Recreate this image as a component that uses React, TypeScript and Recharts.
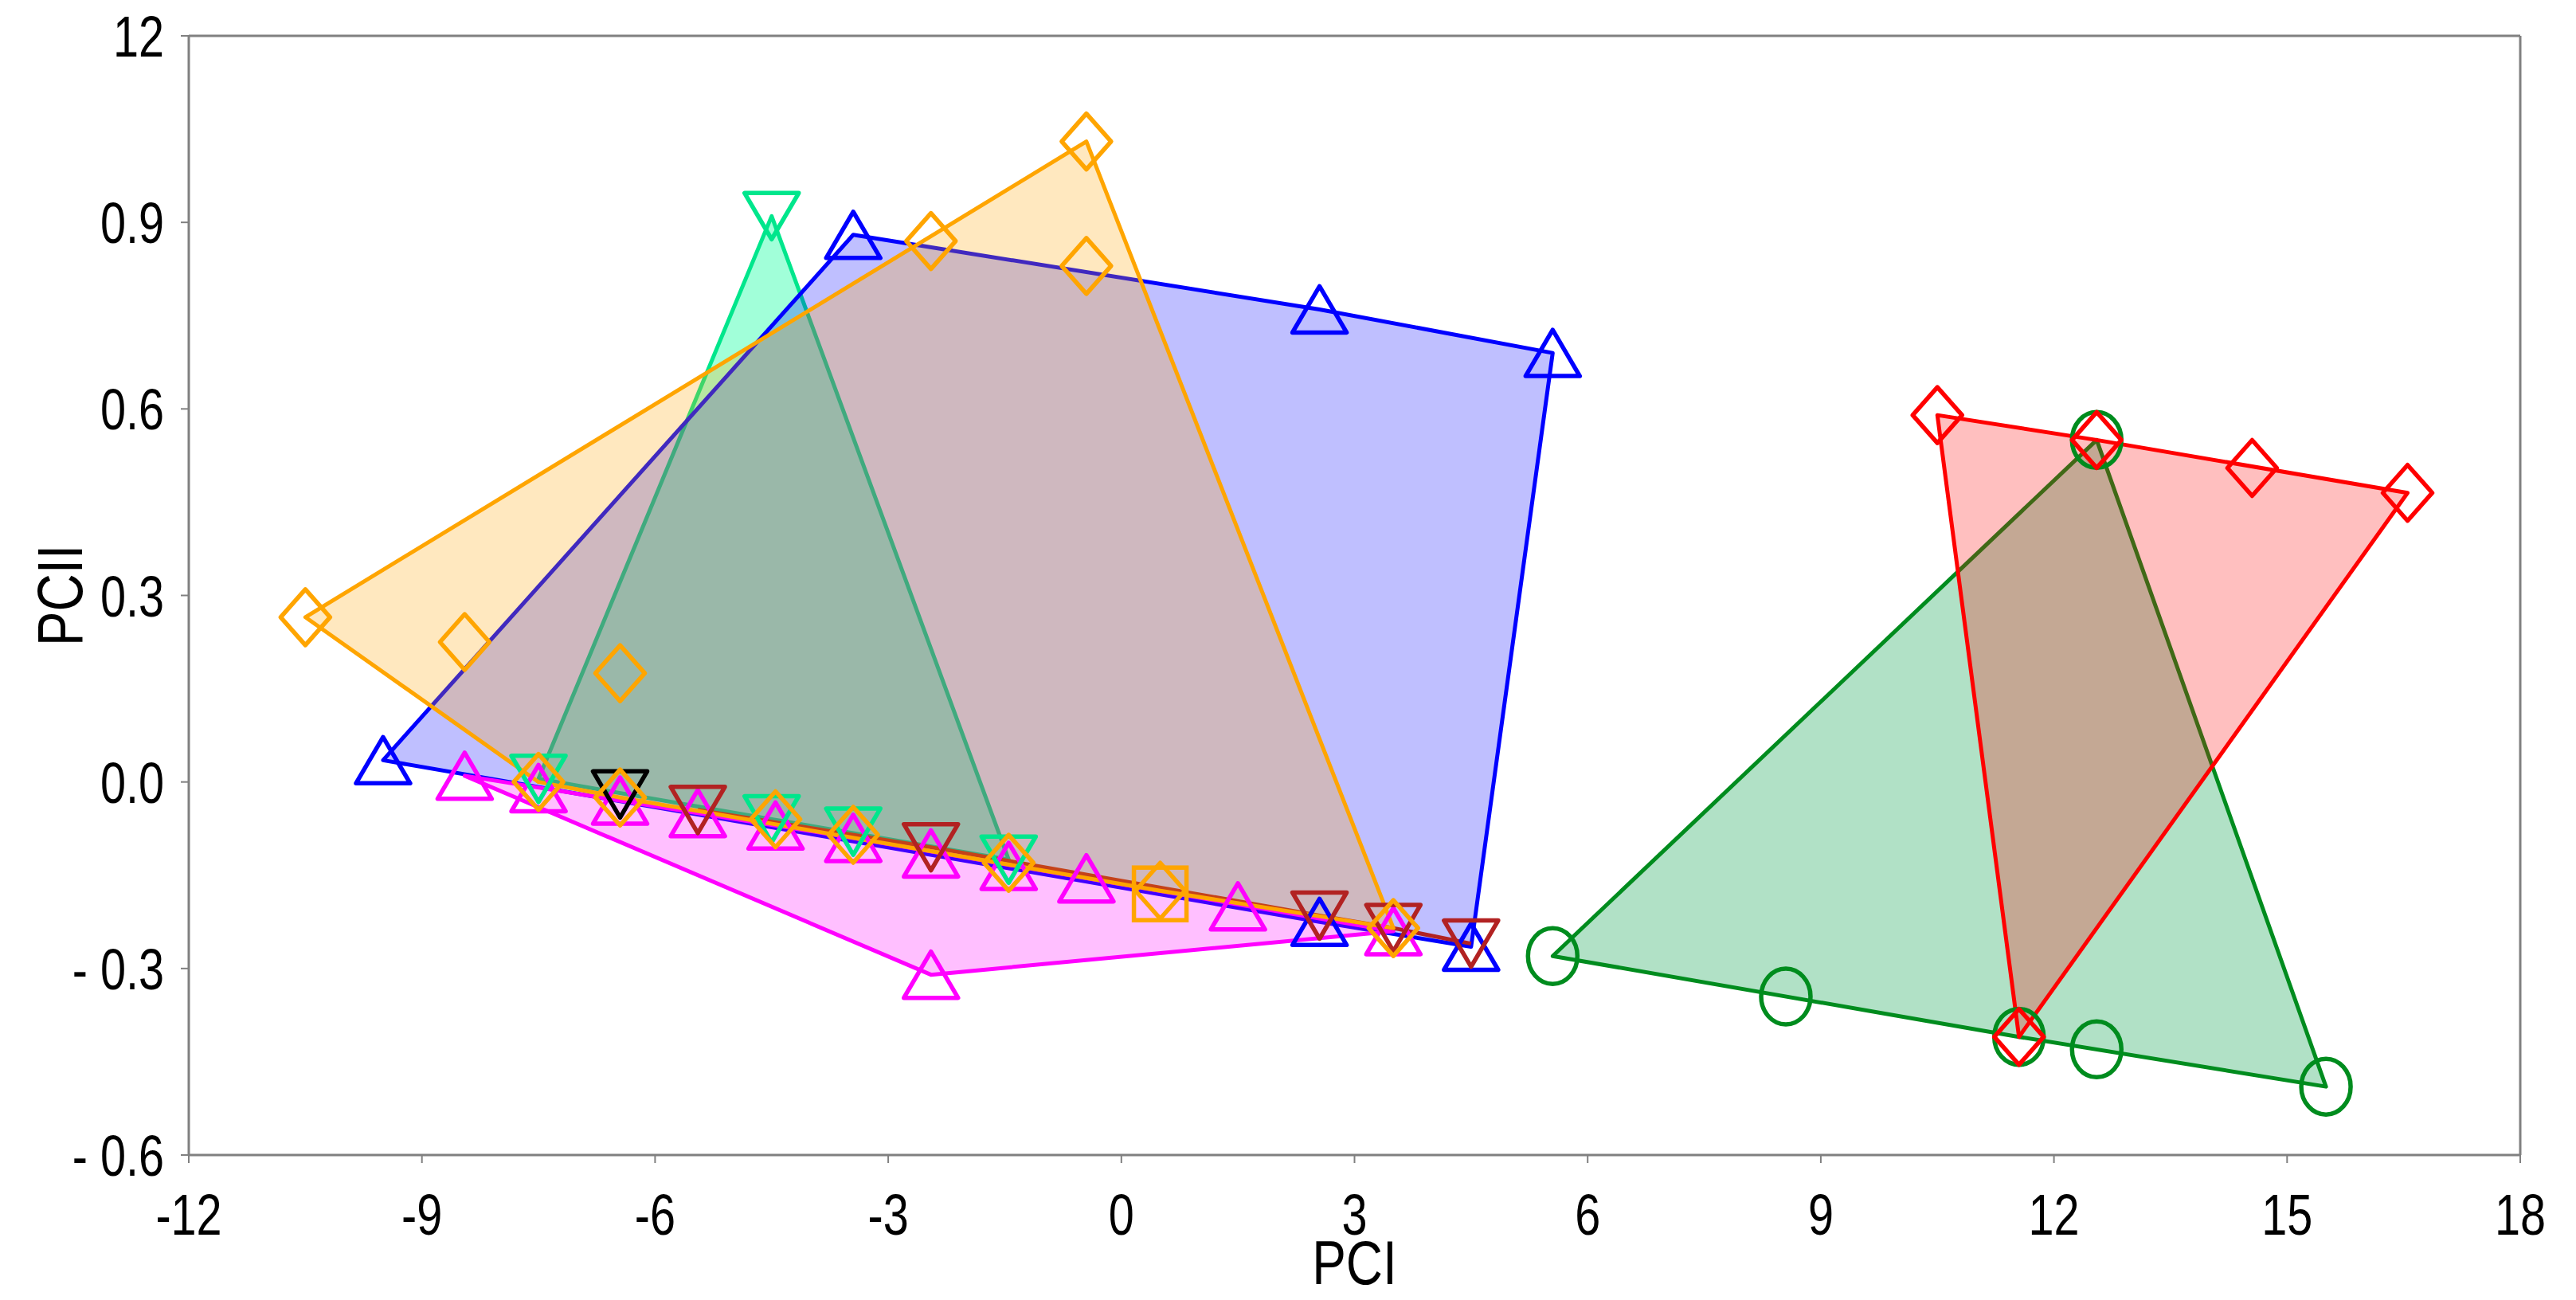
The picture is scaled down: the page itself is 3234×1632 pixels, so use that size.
import React from 'react';
import { ScatterChart, Scatter, XAxis, YAxis, ReferenceLine, Label } from 'recharts';

type Pt = { x: number; y: number };

// values (PCI, PCII)
const orangeDiamonds: Pt[] = [
  { x: -10.5, y: 0.265 }, { x: -8.45, y: 0.225 }, { x: -6.45, y: 0.175 },
  { x: -2.45, y: 0.87 }, { x: -0.45, y: 1.03 }, { x: -0.45, y: 0.83 },
  { x: -7.5, y: 0.0 }, { x: -6.45, y: -0.025 }, { x: -4.45, y: -0.06 },
  { x: -3.45, y: -0.085 }, { x: -1.45, y: -0.13 }, { x: 0.5, y: -0.175 },
  { x: 3.5, y: -0.235 },
];
const blueUp: Pt[] = [
  { x: -9.5, y: 0.035 }, { x: -3.45, y: 0.88 }, { x: 2.55, y: 0.76 },
  { x: 5.55, y: 0.69 }, { x: 4.5, y: -0.265 }, { x: 2.55, y: -0.225 },
];
const cyanDown: Pt[] = [
  { x: -4.5, y: 0.91 }, { x: -7.5, y: 0.005 }, { x: -4.5, y: -0.06 },
  { x: -3.45, y: -0.08 }, { x: -1.45, y: -0.125 },
];
const blackDown: Pt[] = [{ x: -6.45, y: -0.02 }];
const brownDown: Pt[] = [
  { x: -5.45, y: -0.045 }, { x: -2.45, y: -0.105 }, { x: 2.55, y: -0.215 },
  { x: 3.5, y: -0.235 }, { x: 4.5, y: -0.26 },
];
const magentaUp: Pt[] = [
  { x: -8.45, y: 0.01 }, { x: -7.5, y: -0.01 }, { x: -6.45, y: -0.03 },
  { x: -5.45, y: -0.05 }, { x: -4.45, y: -0.07 }, { x: -3.45, y: -0.09 },
  { x: -2.45, y: -0.115 }, { x: -1.45, y: -0.135 }, { x: -0.45, y: -0.155 },
  { x: 1.5, y: -0.2 }, { x: 3.5, y: -0.24 }, { x: -2.45, y: -0.31 },
];
const greenCircles: Pt[] = [
  { x: 5.55, y: -0.28 }, { x: 8.55, y: -0.345 }, { x: 11.55, y: -0.41 },
  { x: 12.55, y: -0.43 }, { x: 15.5, y: -0.49 }, { x: 12.55, y: 0.55 },
];
const redDiamonds: Pt[] = [
  { x: 10.5, y: 0.59 }, { x: 12.55, y: 0.55 }, { x: 14.55, y: 0.505 },
  { x: 16.55, y: 0.465 }, { x: 11.55, y: -0.41 },
];
const orangeSquare: Pt[] = [{ x: 0.5, y: -0.18 }];

const xTicks = [-12, -9, -6, -3, 0, 3, 6, 9, 12, 15, 18];
const xTickLabels = ['-12', '-9', '-6', '-3', '0', '3', '6', '9', '12', '15', '18'];
const yTicks = [-0.6, -0.3, 0, 0.3, 0.6, 0.9, 1.2];
const yTickLabels = ['- 0.6', '- 0.3', '0.0', '0.3', '0.6', '0.9', '12'];

const FONT = '"Liberation Sans", Arial, sans-serif';
const AXIS = '#808080';

function hull(points: { x: number; y: number }[]) {
  const p = [...points].sort((a, b) => a.x - b.x || a.y - b.y);
  if (p.length < 3) return p;
  const cross = (o: any, a: any, b: any) => (a.x - o.x) * (b.y - o.y) - (a.y - o.y) * (b.x - o.x);
  const lower: any[] = [];
  for (const q of p) {
    while (lower.length >= 2 && cross(lower[lower.length - 2], lower[lower.length - 1], q) <= 0) lower.pop();
    lower.push(q);
  }
  const upper: any[] = [];
  for (let i = p.length - 1; i >= 0; i--) {
    const q = p[i];
    while (upper.length >= 2 && cross(upper[upper.length - 2], upper[upper.length - 1], q) <= 0) upper.pop();
    upper.push(q);
  }
  return lower.slice(0, -1).concat(upper.slice(0, -1));
}

const polygon = (stroke: string, fill: string, opacity: number) => (props: any) => {
  const pts = hull(props.points || []);
  return (
    <polygon
      points={pts.map((q: any) => `${q.x},${q.y}`).join(' ')}
      fill={fill}
      fillOpacity={opacity}
      stroke={stroke}
      strokeWidth={5}
      strokeLinejoin="round"
    />
  );
};

const noShape = () => <g />;

const upTri = (color: string) => (p: any) => {
  const w = 68, h = 58;
  return (
    <path d={`M${p.cx},${p.cy - h / 2}L${p.cx + w / 2},${p.cy + h / 2}L${p.cx - w / 2},${p.cy + h / 2}Z`}
      fill="none" stroke={color} strokeWidth={5.5} strokeLinejoin="round" />
  );
};
const downTri = (color: string) => (p: any) => {
  const w = 68, h = 58;
  return (
    <path d={`M${p.cx - w / 2},${p.cy - h / 2}L${p.cx + w / 2},${p.cy - h / 2}L${p.cx},${p.cy + h / 2}Z`}
      fill="none" stroke={color} strokeWidth={5.5} strokeLinejoin="round" />
  );
};
const diamond = (color: string) => (p: any) => {
  const w = 62, h = 70;
  return (
    <path d={`M${p.cx},${p.cy - h / 2}L${p.cx + w / 2},${p.cy}L${p.cx},${p.cy + h / 2}L${p.cx - w / 2},${p.cy}Z`}
      fill="none" stroke={color} strokeWidth={5.5} strokeLinejoin="round" />
  );
};
const circle = (color: string) => (p: any) => (
  <ellipse cx={p.cx} cy={p.cy} rx={31} ry={35} fill="none" stroke={color} strokeWidth={5.5} />
);
const square = (color: string) => (p: any) => (
  <rect x={p.cx - 33} y={p.cy - 33} width={66} height={66} fill="none" stroke={color} strokeWidth={5.5} />
);

const XTick = (props: any) => {
  const i = xTicks.indexOf(props.payload.value);
  return (
    <g transform={`translate(${props.x},${props.y}) scale(0.8,1)`}>
      <text x={0} y={50} textAnchor="middle" fontSize={72} fontFamily={FONT} fill="#000">
        {xTickLabels[i]}
      </text>
    </g>
  );
};

const YTick = (props: any) => {
  const i = yTicks.findIndex((t) => Math.abs(t - props.payload.value) < 1e-6);
  return (
    <g transform={`translate(${props.x},${props.y}) scale(0.8,1)`}>
      <text x={0} y={26} textAnchor="end" fontSize={72} fontFamily={FONT} fill="#000">
        {yTickLabels[i]}
      </text>
    </g>
  );
};

export default function App() {
  return (
    <div style={{ position: 'absolute', left: 0, top: 0, width: 3234, height: 1632, background: '#fff' }}>
      <ScatterChart width={3234} height={1632} margin={{ top: 45, right: 70, left: 0, bottom: 0 }}>
        <XAxis
          type="number"
          dataKey="x"
          domain={[-12, 18]}
          ticks={xTicks}
          interval={0}
          height={182}
          tick={<XTick />}
          tickSize={10}
          tickMargin={40}
          axisLine={{ stroke: AXIS, strokeWidth: 3 }}
          tickLine={{ stroke: AXIS, strokeWidth: 2 }}
        >
          <Label
            content={(p: any) => (
              <g transform={`translate(${p.viewBox.x + p.viewBox.width / 2},${p.viewBox.y + 162}) scale(0.82,1)`}>
                <text x={0} y={0} textAnchor="middle" fontSize={78} fontFamily={FONT} fill="#000">PCI</text>
              </g>
            )}
          />
        </XAxis>
        <YAxis
          type="number"
          dataKey="y"
          domain={[-0.6, 1.2]}
          ticks={yTicks}
          interval={0}
          width={237}
          tick={<YTick />}
          tickSize={10}
          tickMargin={21}
          axisLine={{ stroke: AXIS, strokeWidth: 3 }}
          tickLine={{ stroke: AXIS, strokeWidth: 2 }}
        >
          <Label
            content={(p: any) => (
              <g transform={`translate(103,${p.viewBox.y + p.viewBox.height / 2}) rotate(-90) scale(0.82,1)`}>
                <text x={0} y={0} textAnchor="middle" fontSize={80} fontFamily={FONT} fill="#000">PCII</text>
              </g>
            )}
          />
        </YAxis>
        <ReferenceLine y={1.2} stroke={AXIS} strokeWidth={3} />
        <ReferenceLine x={18} stroke={AXIS} strokeWidth={3} />

        {/* filled hulls */}
        <Scatter data={cyanDown} shape={noShape} line={polygon('#00e68c', '#00ff99', 0.37)} lineType="joint" isAnimationActive={false} />
        <Scatter data={blueUp} shape={noShape} line={polygon('#0000ff', '#0000ff', 0.25)} lineType="joint" isAnimationActive={false} />
        <Scatter data={magentaUp} shape={noShape} line={polygon('#ff00ff', '#ff00ff', 0.25)} lineType="joint" isAnimationActive={false} />
        <Scatter data={brownDown} shape={noShape} line={{ stroke: '#b22222', strokeWidth: 5 }} lineType="joint" isAnimationActive={false} />
        <Scatter data={orangeDiamonds} shape={noShape} line={polygon('#ffa500', '#ffa500', 0.25)} lineType="joint" isAnimationActive={false} />
        <Scatter data={greenCircles} shape={noShape} line={polygon('#008c1e', '#3cb371', 0.4)} lineType="joint" isAnimationActive={false} />
        <Scatter data={redDiamonds} shape={noShape} line={polygon('#ff0000', '#ff0000', 0.25)} lineType="joint" isAnimationActive={false} />

        {/* markers */}
        <Scatter data={magentaUp} shape={upTri('#ff00ff')} isAnimationActive={false} />
        <Scatter data={blueUp} shape={upTri('#0000ff')} isAnimationActive={false} />
        <Scatter data={brownDown} shape={downTri('#b22222')} isAnimationActive={false} />
        <Scatter data={blackDown} shape={downTri('#000000')} isAnimationActive={false} />
        <Scatter data={cyanDown} shape={downTri('#00e68c')} isAnimationActive={false} />
        <Scatter data={orangeSquare} shape={square('#ffa500')} isAnimationActive={false} />
        <Scatter data={orangeDiamonds} shape={diamond('#ffa500')} isAnimationActive={false} />
        <Scatter data={greenCircles} shape={circle('#008c1e')} isAnimationActive={false} />
        <Scatter data={redDiamonds} shape={diamond('#ff0000')} isAnimationActive={false} />
      </ScatterChart>
    </div>
  );
}
